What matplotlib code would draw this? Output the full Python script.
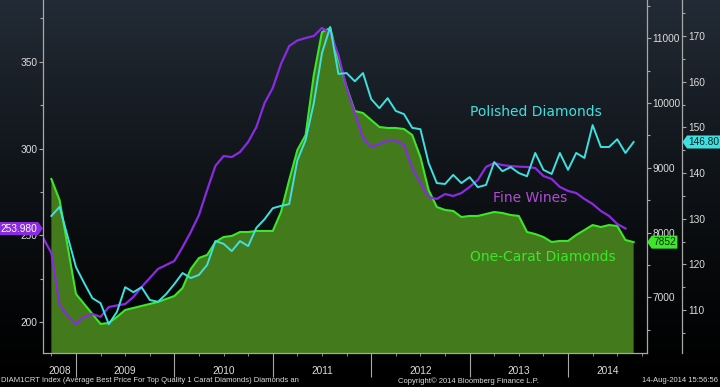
import numpy as np
import matplotlib
matplotlib.use('Agg')
import matplotlib.pyplot as plt
import matplotlib.transforms as mtransforms
from matplotlib.path import Path
from matplotlib.ticker import FixedLocator, MultipleLocator

#monthly points, x = months counted from Jan 2008
wine_start = 8
diamond_start = 9
years = [2008, 2009, 2010, 2011, 2012, 2013, 2014]

fine_wines = [248.5, 239.9, 210.0, 203.6, 199.0, 203.1, 204.8, 203.1, 208.8, 209.7,
              210.5, 214.6, 220.3, 225.5, 230.7, 233.0, 235.3, 243.3, 252.0, 261.8,
              276.2, 290.0, 295.7, 295.1, 298.0, 303.8, 312.4, 326.2, 334.9, 348.7,
              359.0, 362.2, 363.6, 364.8, 369.4, 366.5, 353.9, 334.9, 320.5, 306.1,
              300.9, 302.6, 304.9, 304.4, 302.1, 288.8, 280.2, 272.1, 271.0, 273.8,
              272.7, 274.4, 277.9, 281.9, 289.4, 291.7, 290.5, 289.9, 289.6, 289.4,
              288.8, 284.2, 282.5, 277.9, 275.6, 274.4, 271.0, 268.1, 264.1, 261.2,
              256.6, 253.98]

one_carat = [8827, 8503, 7777, 7051, 6897, 6742, 6588, 6603, 6696, 6804,
             6835, 6866, 6897, 6928, 6974, 7020, 7144, 7437, 7607, 7654,
             7854, 7931, 7947, 8008, 8008, 8024, 8024, 8024, 8317, 8812,
             9275, 9507, 10433, 11097, 11159, 10665, 10248, 9877, 9846, 9738,
             9630, 9615, 9615, 9599, 9507, 9167, 8657, 8395, 8349, 8333,
             8240, 8256, 8256, 8287, 8317, 8302, 8271, 8256, 8008, 7977,
             7931, 7854, 7870, 7870, 7962, 8039, 8116, 8085, 8116, 8101,
             7885, 7852]

polished = [130.6, 132.6, 126.0, 119.4, 115.9, 112.6, 111.5, 106.9, 109.6, 115.0,
            113.9, 115.0, 112.2, 111.8, 113.5, 115.7, 118.1, 117.0, 117.7, 119.9,
            125.1, 124.5, 122.9, 125.1, 124.0, 128.0, 129.9, 132.3, 132.8, 133.2,
            142.8, 147.2, 155.3, 166.3, 172.0, 161.7, 161.9, 160.1, 161.9, 156.2,
            154.2, 156.4, 153.6, 152.9, 149.9, 149.6, 142.2, 137.8, 137.6, 139.6,
            137.8, 139.1, 136.9, 137.4, 142.4, 140.4, 141.3, 140.0, 139.3, 144.4,
            140.7, 139.8, 144.4, 140.7, 144.4, 143.3, 150.5, 145.7, 145.7, 147.4,
            144.4, 146.8]

wine_ticks = [200, 250, 300, 350]
carat_ticks = [7000, 8000, 9000, 10000, 11000]
polished_ticks = [110, 120, 130, 140, 150, 160, 170]

series_names = ['Polished Diamonds', 'Fine Wines', 'One-Carat Diamonds']
last_labels = ['146.80', '253.980', '7852']
footer_left = 'DIAM1CRT Index (Average Best Price For Top Quality 1 Carat Diamonds) Diamonds an'
footer_mid = 'Copyright\u00a9 2014 Bloomberg Finance L.P.'
footer_right = '14-Aug-2014 15:56:56'

#colours
wine_col = '#8a2be2'
wine_txt = '#b04cd4'
cyan_col = '#3fe0e0'
lime_col = '#3ce62a'
fill_col = '#427a1c'
axis_col = '#a8a8a8'
label_col = '#dcdcdc'

plt.rcParams['font.family'] = ['Liberation Sans', 'DejaVu Sans']


def tag_shape(point):
    #price tag box, pointed on one side
    def style(x0, y0, width, height, mutation_size):
        pad = 0.15 * mutation_size
        x0, y0 = x0 - pad, y0 - pad
        x1, y1 = x0 + width + 2 * pad, y0 + height + 2 * pad
        tip = 0.35 * (y1 - y0)
        ym = (y0 + y1) / 2
        if point == 'left':
            verts = [(x0 - tip, ym), (x0, y0), (x1, y0), (x1, y1), (x0, y1), (x0 - tip, ym)]
        else:
            verts = [(x1 + tip, ym), (x1, y1), (x0, y1), (x0, y0), (x1, y0), (x1 + tip, ym)]
        codes = [Path.MOVETO] + [Path.LINETO] * 4 + [Path.CLOSEPOLY]
        return Path(verts, codes)
    return style


fig = plt.figure(figsize=(7.2, 3.87), dpi=100, facecolor='black')

#background: slate at the top fading to black
bg = fig.add_axes([0, 0, 1, 1], zorder=-10)
grad = np.linspace(1, 0, 256) ** 1.3
top = np.array([0.135, 0.17, 0.21])
bg.imshow(grad[:, None, None] * top[None, None, :], aspect='auto', extent=[0, 1, 0, 1])
bg.axis('off')

ax = fig.add_axes([43 / 720, 34.3 / 387, 604 / 720, 352.7 / 387])
ax2 = ax.twinx()
ax3 = ax.twinx()
ax2.set_zorder(1)
ax.set_zorder(2)
ax3.set_zorder(3)
for a in (ax, ax2, ax3):
    a.patch.set_visible(False)

xw = wine_start + np.arange(len(fine_wines))
xd = diamond_start + np.arange(len(one_carat))

ax2.fill_between(xd, one_carat, 0, color=fill_col, lw=0)
ax2.plot(xd, one_carat, color=lime_col, lw=1.5)
ax.plot(xw, fine_wines, color=wine_col, lw=1.6)
ax3.plot(xd, polished, color=cyan_col, lw=1.4)

ax.set_xlim(7.98, 81.63)
ax.set_ylim(182.5, 385.5)
ax2.set_ylim(6144, 11592)
ax3.set_ylim(100.65, 177.9)

for a in (ax, ax2, ax3):
    for s in a.spines.values():
        s.set_visible(False)
        s.set_color(axis_col)
        s.set_linewidth(0.9)
ax.spines['left'].set_visible(True)
ax.spines['bottom'].set_visible(True)
ax2.spines['right'].set_visible(True)
ax3.spines['right'].set_visible(True)
ax3.spines['right'].set_position(('axes', (682.3 - 43) / 604))

#y axes
ax.yaxis.set_major_locator(FixedLocator(wine_ticks))
ax.yaxis.set_minor_locator(MultipleLocator(25))
ax2.yaxis.set_major_locator(FixedLocator(carat_ticks))
ax2.yaxis.set_minor_locator(MultipleLocator(500))
ax3.yaxis.set_major_locator(FixedLocator(polished_ticks))
ax3.yaxis.set_minor_locator(MultipleLocator(5))
for a in (ax, ax2, ax3):
    a.tick_params(axis='y', which='both', direction='out', color=axis_col,
                  labelcolor=label_col, labelsize=7.3, length=3, width=0.8, pad=1)
    a.tick_params(axis='y', which='minor', length=2.5)

#x axis: year separators + quarter ticks, year names centred on visible span
year_edges = [12 * (y - 2008) for y in years[1:]]
ax.xaxis.set_major_locator(FixedLocator(year_edges))
ax.xaxis.set_minor_locator(MultipleLocator(3))
ax.tick_params(axis='x', which='major', length=17, width=0.8, color=axis_col, labelbottom=False)
ax.tick_params(axis='x', which='minor', length=2.5, width=0.6, color=axis_col)
lo, hi = ax.get_xlim()
for y in years:
    a0 = max(12 * (y - 2008), lo)
    a1 = min(12 * (y - 2008) + 12, hi)
    ax.annotate(str(y), xy=((a0 + a1) / 2, 0), xycoords=ax.get_xaxis_transform(),
                xytext=(0, -13.2), textcoords='offset points', ha='center', va='center',
                color=label_col, fontsize=7.3)

#series names
ax.text(0.707, 0.682, series_names[0], transform=ax.transAxes, color=cyan_col,
        fontsize=10, family='DejaVu Sans', va='center')
ax.text(0.745, 0.439, series_names[1], transform=ax.transAxes, color=wine_txt,
        fontsize=10, family='DejaVu Sans', va='center')
ax.text(0.707, 0.271, series_names[2], transform=ax.transAxes, color=lime_col,
        fontsize=10, family='DejaVu Sans', va='center')

#last value tags
tr_wine = mtransforms.blended_transform_factory(ax.transAxes, ax.transData)
tr_carat = mtransforms.blended_transform_factory(ax2.transAxes, ax2.transData)
tr_pol = mtransforms.blended_transform_factory(ax3.transAxes, ax3.transData)
ax.annotate(last_labels[1], xy=(0, fine_wines[-1]), xycoords=tr_wine,
            xytext=(-4.5, 0), textcoords='offset points', ha='right', va='center',
            color='white', fontsize=7.3, annotation_clip=False,
            bbox=dict(boxstyle=tag_shape('right'), fc=wine_col, ec='none'))
ax2.annotate(last_labels[2], xy=(1, one_carat[-1]), xycoords=tr_carat,
             xytext=(4.5, 0), textcoords='offset points', ha='left', va='center',
             color='#0a2a00', fontsize=7.3, annotation_clip=False,
             bbox=dict(boxstyle=tag_shape('left'), fc=lime_col, ec='none'))
ax3.annotate(last_labels[0], xy=((682.3 - 43) / 604, polished[-1]), xycoords=tr_pol,
             xytext=(4.5, 0), textcoords='offset points', ha='left', va='center',
             color='#00262a', fontsize=7.3, annotation_clip=False,
             bbox=dict(boxstyle=tag_shape('left'), fc=cyan_col, ec='none'))

#footer
fig.text(0.001, 6 / 387, footer_left, color=label_col, fontsize=5.5, va='center', ha='left')
fig.text(398 / 720, 6 / 387, footer_mid, color=label_col, fontsize=5.5, va='center', ha='left')
fig.text(718 / 720, 6 / 387, footer_right, color=label_col, fontsize=5.5, va='center', ha='right')

fig.savefig('out.png', dpi=100, facecolor='black')
